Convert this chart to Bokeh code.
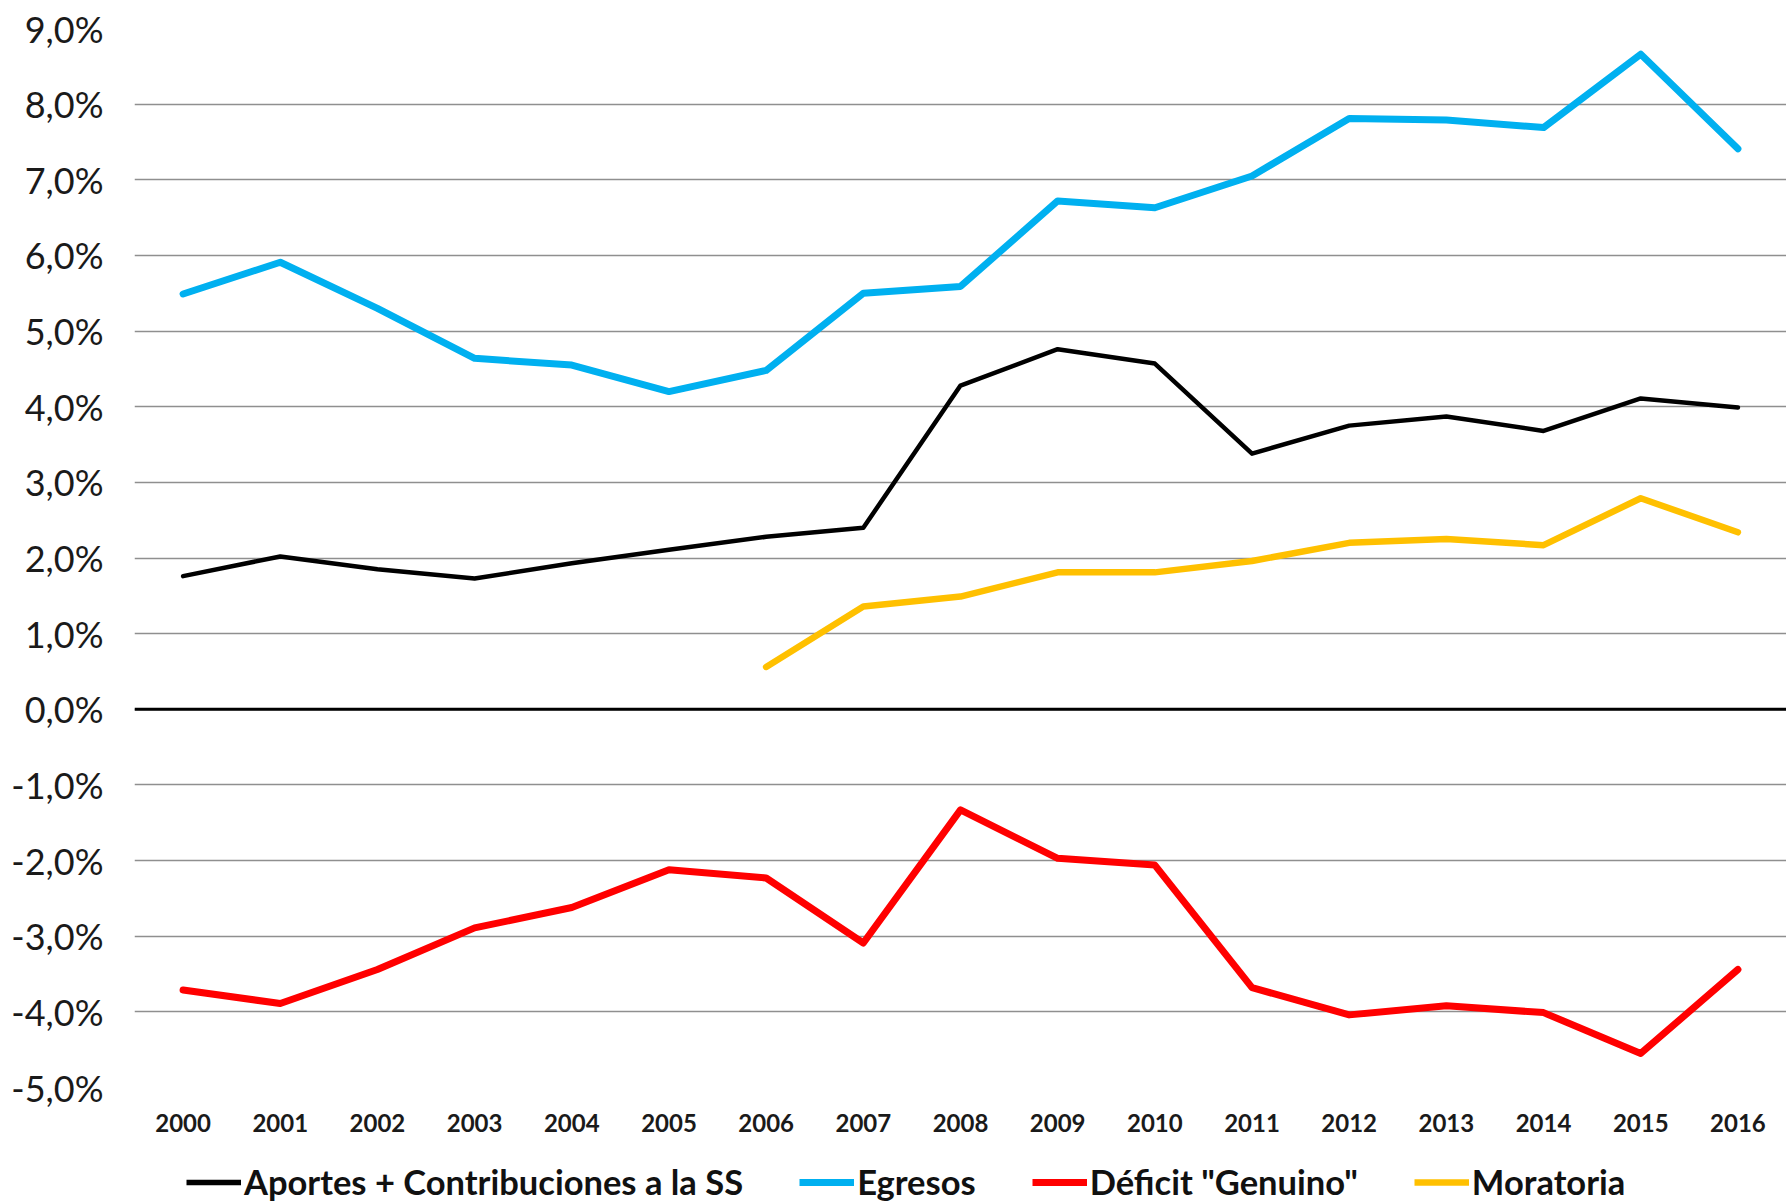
from bokeh.plotting import figure
from bokeh.layouts import column
from bokeh.models import Range1d, FactorRange, FixedTicker, Span, Legend, LegendItem
from bokeh.embed import file_html
from bokeh.resources import INLINE

years = [str(y) for y in range(2000, 2017)]
aportes = [1.76, 2.02, 1.85, 1.73, 1.93, 2.11, 2.28, 2.40, 4.28, 4.76, 4.57, 3.38, 3.75, 3.87, 3.68, 4.11, 3.99]
egresos = [5.49, 5.91, 5.30, 4.64, 4.55, 4.20, 4.48, 5.50, 5.59, 6.72, 6.63, 7.05, 7.81, 7.79, 7.69, 8.66, 7.41]
deficit = [-3.71, -3.89, -3.44, -2.89, -2.62, -2.12, -2.23, -3.09, -1.33, -1.97, -2.06, -3.68, -4.04, -3.92, -4.01, -4.55, -3.44]
moratoria_years = [str(y) for y in range(2006, 2017)]
moratoria = [0.56, 1.36, 1.49, 1.81, 1.81, 1.96, 2.20, 2.25, 2.17, 2.79, 2.34]
y_ticks = [-5, -4, -3, -2, -1, 0, 1, 2, 3, 4, 5, 6, 7, 8, 9]
labels = ['Aportes + Contribuciones a la SS', 'Egresos', 'Déficit "Genuino"', 'Moratoria']
colors = ["black", "#00B0F0", "#FF0000", "#FFC000"]
widths = [4.5, 7, 7, 6.5]

p = figure(width=1786, height=1145, x_range=FactorRange(*years, range_padding=0),
           y_range=Range1d(-5, 9), output_backend="svg", toolbar_location=None,
           min_border_left=134, min_border_right=0, min_border_top=28, min_border_bottom=58)
p.outline_line_color = None
p.background_fill_color = "white"
p.border_fill_color = "white"

p.xgrid.grid_line_color = None
p.ygrid.grid_line_color = "#8f8f8f"
p.ygrid.grid_line_width = 1.5
p.yaxis.ticker = FixedTicker(ticks=y_ticks)
p.yaxis.major_label_overrides = {t: (f"{t:.1f}%").replace(".", ",") for t in y_ticks}

for ax in (p.xaxis[0], p.yaxis[0]):
    ax.axis_line_color = None
    ax.major_tick_line_color = None
    ax.minor_tick_line_color = None
    ax.major_tick_out = 0
    ax.major_tick_in = 0
    ax.major_label_text_font = "Lato"
    ax.major_label_text_color = "#1a1a1a"

p.yaxis.major_label_text_font_size = "36px"
p.yaxis.major_label_standoff = 31
p.xaxis.major_label_text_font_size = "24px"
p.xaxis.major_label_text_font_style = "bold"
p.xaxis.major_label_standoff = 26

zero = Span(location=0, dimension="width", line_color="black", line_width=3)
p.add_layout(zero)

series_x = [years, years, years, moratoria_years]
series_y = [aportes, egresos, deficit, moratoria]
for xs, ys, c, w in zip(series_x, series_y, colors, widths):
    p.line(xs, ys, line_color=c, line_width=w, line_join="round", line_cap="round")

# legend strip below the chart (its lines lie outside its visible range; only the legend shows)
lg = figure(width=1786, height=57, x_range=Range1d(0, 1), y_range=Range1d(50, 51),
            output_backend="svg", toolbar_location=None, x_axis_type=None, y_axis_type=None,
            min_border_left=0, min_border_right=0, min_border_top=0, min_border_bottom=0)
lg.outline_line_color = None
lg.grid.grid_line_color = None
lg.background_fill_color = "white"
lg.border_fill_color = "white"
items = []
for ys, lab, c, w in zip(series_y, labels, colors, widths):
    r = lg.line(x=list(range(len(ys))), y=ys, line_color=c, line_width=max(w, 5.5))
    items.append(LegendItem(label=lab, renderers=[r]))
legend = Legend(items=items, orientation="horizontal", location=(52, 0),
                label_text_font="Lato", label_text_font_style="bold", label_text_font_size="34.5px",
                label_text_color="#111111", glyph_width=55, glyph_height=40, label_height=40,
                label_standoff=3, spacing=56, padding=0, margin=0,
                border_line_color=None, background_fill_alpha=0)
lg.add_layout(legend, "center")

layout = column(p, lg, spacing=0)
open("out.html", "w").write(file_html(layout, INLINE))
